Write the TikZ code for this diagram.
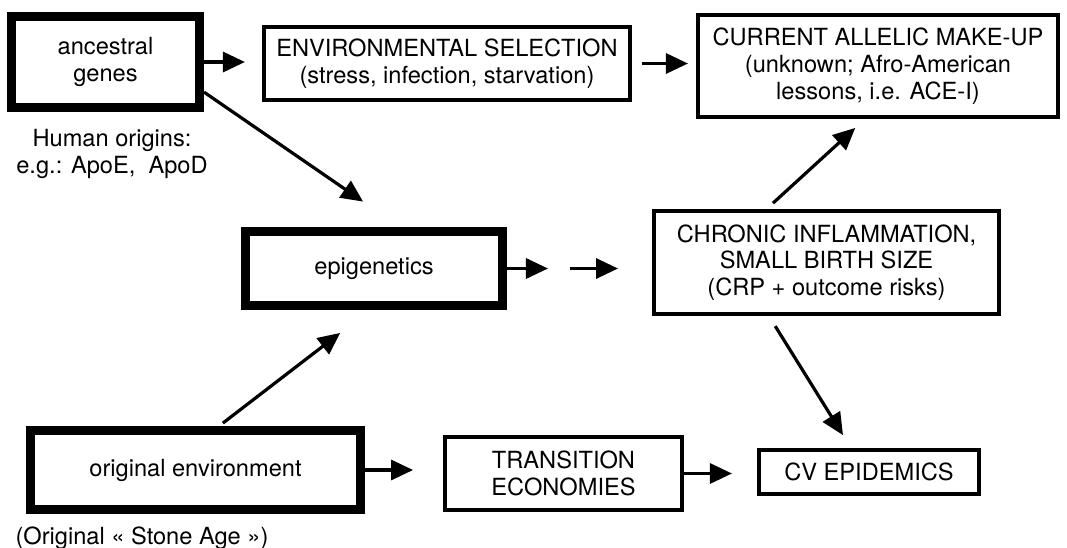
\documentclass[tikz,border=0pt]{standalone}
\usepackage{fontspec}
\setmainfont{TeX Gyre Heros}
\usepackage{tikz}
\usetikzlibrary{arrows.meta,positioning,calc}
\tikzset{
    >={Triangle[length=0.55cm,width=0.5cm]},
    box/.style={
        rectangle,
        draw=black, line width=0.11cm,
        align=center,
        inner sep=0pt
    },
    heavybox/.style={box, line width=0.225cm},
    link/.style={draw, ->, line width=0.08cm},
    note/.style={align=center, inner sep=0pt},
    font={\fontsize{16.8pt}{19pt}\selectfont},
}

\begin{document}
\begin{tikzpicture}[x=0.025cm, y=-0.025cm]
    \useasboundingbox (0,0) rectangle (1067,547);
    % boxes
    \node[heavybox, minimum width=4.7cm, minimum height=2.275cm] (genes) at (105.5,62) {ancestral\\genes};
    \node[box, minimum width=9.14cm, minimum height=1.81cm] (select) at (447,63.5) {ENVIRONMENTAL SELECTION\\(stress, infection, starvation)};
    \node[box, minimum width=8.99cm, minimum height=2.54cm] (allelic) at (878,66) {CURRENT ALLELIC MAKE-UP\\(unknown; Afro-American\\lessons, i.e. ACE-I)};
    \node[heavybox, minimum width=6.425cm, minimum height=1.85cm] (epigen) at (374,268.5) {epigenetics};
    \node[box, minimum width=8.61cm, minimum height=2.56cm] (inflam) at (826.5,262.5) {CHRONIC INFLAMMATION,\\SMALL BIRTH SIZE\\(CRP + outcome risks)};
    \node[heavybox, minimum width=8.25cm, minimum height=1.975cm] (origenv) at (195.5,470) {original environment};
    \node[box, minimum width=5.91cm, minimum height=1.81cm] (trans) at (563.5,473.5) {TRANSITION\\ECONOMIES};
    \node[box, minimum width=5.49cm, minimum height=1.09cm] (cvepi) at (869,472) {CV EPIDEMICS};
    % side notes
    \node[note, anchor=north] (origins) at (112,129) {Human origins:\\e.g.: ApoE,~~ApoD};
    \node[note, anchor=base] (stoneage) at (142,544) {(Original « Stone Age »)};
    \coordinate (gapL) at (548,268.5);
    \coordinate (gapR) at (570,268.5);
    % connectors
    \draw[link, shorten >=0.425cm] (genes.east) -- (genes.east -| select.west);
    \draw[link, shorten <=0.25cm, shorten >=0.2cm] (select.east) -- (select.east -| allelic.west);
    \draw[link, shorten >=1.12cm] (genes.-17) -- ([xshift=0.65cm]epigen.north);
    \draw[link] (epigen.east) -- (gapL);
    \draw[link, shorten >=0.85cm] (gapR) -- (gapR -| inflam.west);
    \draw[link, shorten <=0.22cm, shorten >=0.33cm] ([xshift=-1.5cm]inflam.north) -- ([xshift=-0.325cm]allelic.south);
    \draw[link, shorten <=0.3cm, shorten >=0.38cm] ([xshift=-1.44cm]inflam.south) -- ([xshift=-0.45cm]cvepi.north);
    \draw[link, shorten <=0.12cm, shorten >=0.94cm] ([xshift=0.59cm]origenv.north) -- ([xshift=-0.1cm]epigen.south);
    \draw[link, shorten >=0.75cm] (origenv.east) -- (origenv.east -| trans.west);
    \draw[link, shorten >=0.625cm] (trans.east) -- (trans.east -| cvepi.west);
\end{tikzpicture}
\end{document}
